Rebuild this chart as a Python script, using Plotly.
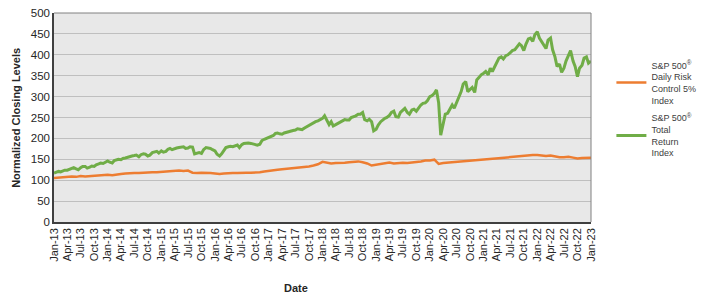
import pandas as pd
import plotly.graph_objects as go

# Semi-monthly dates (1st and 15th) for the total return index
green_dates = [d for y in range(2013, 2023) for m in range(1, 13)
               for d in (f"{y}-{m:02d}-01", f"{y}-{m:02d}-15")] + ["2023-01-01"]
green_values = [
    117, 119, 121, 120, 122, 124, 124, 126, 128, 130, 127, 125, 130, 133, 133, 129, 131, 134, 133, 137, 139, 141, 140, 143,
    146, 143, 141, 147, 149, 150, 149, 152, 153, 155, 157, 158, 159, 160, 156, 161, 163, 162, 158, 160, 166, 168, 169, 165,
    170, 167, 169, 174, 176, 173, 176, 177, 178, 179, 180, 176, 177, 180, 179, 163, 165, 166, 164, 173, 178, 177, 176, 173,
    170, 162, 158, 163, 172, 178, 180, 181, 180, 182, 184, 178, 185, 188, 189, 189, 188, 187, 186, 184, 186, 195, 198, 200,
    201, 204, 207, 212, 213, 211, 210, 213, 215, 216, 218, 219, 220, 223, 222, 221, 225, 228, 231, 234, 236, 240, 242, 244,
    248, 254, 240, 233, 240, 230, 233, 236, 238, 241, 245, 244, 244, 250, 252, 254, 258, 258, 262, 245, 242, 246, 240, 218,
    222, 232, 240, 245, 248, 250, 255, 262, 265, 252, 251, 262, 268, 272, 262, 258, 268, 270, 265, 272, 280, 284, 285, 290,
    300, 302, 308, 316, 285, 208, 240, 258, 260, 268, 280, 272, 285, 300, 312, 330, 336, 312, 318, 322, 310, 340, 346, 352,
    356, 360, 352, 368, 360, 370, 380, 392, 395, 390, 398, 400, 405, 410, 412, 418, 426, 422, 410, 425, 438, 440, 432, 448,
    455, 440, 430, 420, 415, 435, 440, 412, 395, 372, 378, 358, 368, 385, 400, 410, 385, 372, 348, 368, 375, 392, 395, 380,
    385,
]

# Monthly dates for the daily risk control index
orange_dates = [f"{y}-{m:02d}-01" for y in range(2013, 2023) for m in range(1, 13)] + ["2023-01-01"]
orange_values = [
    105, 106, 107, 108, 109, 108, 110, 109, 110, 111, 112, 113,
    113, 112, 114, 115, 116, 117, 117, 117, 118, 118, 119, 119,
    120, 121, 121, 122, 123, 122, 123, 118, 117, 118, 118, 117,
    116, 115, 116, 117, 117, 117, 118, 118, 118, 118, 119, 121,
    123, 125, 125, 126, 127, 128, 129, 130, 131, 133, 135, 138,
    144, 141, 140, 141, 141, 142, 143, 144, 145, 143, 140, 135,
    137, 139, 140, 142, 140, 141, 142, 141, 142, 143, 145, 147,
    147, 149, 139, 141, 142, 143, 144, 145, 146, 146, 147, 149,
    150, 151, 152, 153, 154, 155, 156, 157, 158, 158, 159, 160,
    160, 159, 158, 159, 157, 155, 155, 156, 154, 152, 153, 154,
    154,
]

tick_dates = [f"{y}-{m:02d}-01" for y in range(2013, 2023) for m in (1, 4, 7, 10)] + ["2023-01-01"]
tick_labels = [pd.Timestamp(d).strftime("%b-%y") for d in tick_dates]

series_names = ["S&P 500<sup>®</sup><br>Daily Risk<br>Control 5%<br>Index",
                "S&P 500<sup>®</sup><br>Total<br>Return<br>Index"]

FONT = "Liberation Sans, Arial, sans-serif"

fig = go.Figure()
fig.add_trace(go.Scatter(x=orange_dates, y=orange_values, mode="lines", name=series_names[0],
                         line=dict(color="#ed7d31", width=2.5), legendgroup="a"))
fig.add_trace(go.Scatter(x=green_dates, y=green_values, mode="lines", name=series_names[1],
                         line=dict(color="#70ad47", width=3), legendgroup="b"))

fig.update_layout(
    width=708, height=299,
    margin=dict(l=54, r=117, t=13, b=77, autoexpand=False),
    paper_bgcolor="white", plot_bgcolor="#e8e8e8",
    font=dict(family=FONT, size=11, color="#262626"),
    showlegend=True,
    legend=dict(x=1.038, y=0.81, xanchor="left", yanchor="top", valign="middle",
                font=dict(family=FONT, size=9, color="#404040"),
                tracegroupgap=3, bgcolor="rgba(0,0,0,0)"),
    xaxis=dict(type="date", range=["2013-01-01", "2023-01-01"],
               tickmode="array", tickvals=tick_dates, ticktext=tick_labels,
               tickangle=-90, tickfont=dict(size=11, color="#262626"),
               showgrid=False, showline=True, linecolor="#404040", linewidth=1.5,
               mirror=False, ticks="", zeroline=False, automargin=False),
    yaxis=dict(range=[0, 500], tickmode="linear", tick0=0, dtick=50,
               tickfont=dict(size=11.5, color="#262626"),
               showgrid=True, gridcolor="#bfbfbf", gridwidth=1,
               showline=True, linecolor="#404040", linewidth=1.5, ticks="", zeroline=False,
               automargin=False),
    annotations=[
        dict(text="<b>Normalized Closing Levels</b>", xref="paper", yref="paper",
             x=-0.072, y=0.5, xanchor="center", yanchor="middle", textangle=-90,
             showarrow=False, font=dict(family=FONT, size=11, color="#262626")),
        dict(text="<b>Date</b>", xref="paper", yref="paper",
             x=(296 - 54) / 537, y=-(288 - 222) / 209, xanchor="center", yanchor="middle",
             showarrow=False, font=dict(family=FONT, size=11, color="#262626")),
    ],
    shapes=[
        dict(type="line", xref="paper", yref="paper", x0=0, x1=1, y0=1, y1=1,
             line=dict(color="#808080", width=1)),
        dict(type="line", xref="paper", yref="paper", x0=1, x1=1, y0=0, y1=1,
             line=dict(color="#808080", width=1)),
    ],
)

fig.write_html("out.html")
